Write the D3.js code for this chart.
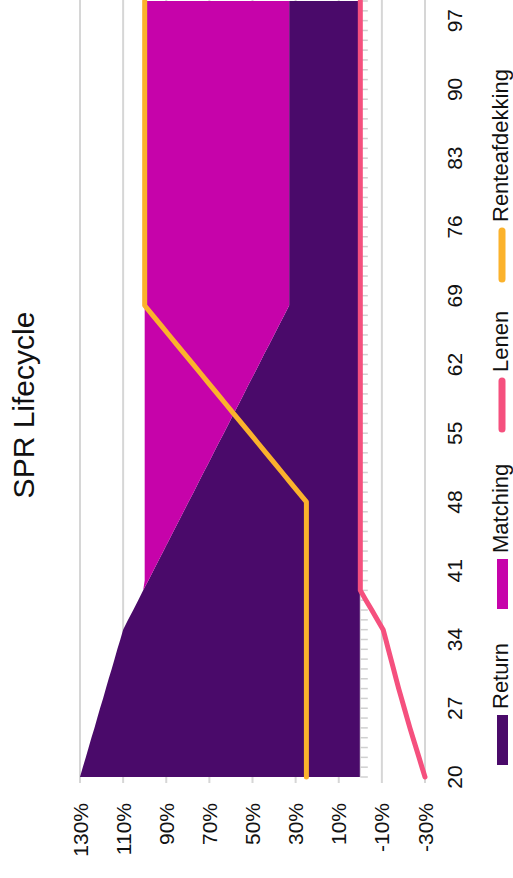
<!DOCTYPE html>
<html lang="en">
<head>
    <meta charset="UTF-8">
    <title>SPR Lifecycle</title>
    <script src="https://cdn.jsdelivr.net/npm/d3@7/dist/d3.min.js"></script>
    <style>
        body { margin: 0; background: #fff; }
        svg { display: block; font-family: "Liberation Sans", Arial, sans-serif; }
    </style>
</head>
<body>
<script>
    // leeftijden (categorieen)
    var ages = [
        20, 21, 22, 23, 24, 25, 26, 27, 28, 29,
        30, 31, 32, 33, 34, 35, 36, 37, 38, 39,
        40, 41, 42, 43, 44, 45, 46, 47, 48, 49,
        50, 51, 52, 53, 54, 55, 56, 57, 58, 59,
        60, 61, 62, 63, 64, 65, 66, 67, 68, 69,
        70, 71, 72, 73, 74, 75, 76, 77, 78, 79,
        80, 81, 82, 83, 84, 85, 86, 87, 88, 89,
        90, 91, 92, 93, 94, 95, 96, 97, 98, 99
    ];

    var returnPct = [
        130, 128.7, 127.3, 126, 124.7, 123.3, 122, 120.7, 119.3, 118,
        116.7, 115.3, 114, 112.7, 111.3, 110, 107.7, 105.3, 103, 100.7,
        98.3, 96, 93.7, 91.3, 89, 86.7, 84.3, 82, 79.7, 77.3,
        75, 72.7, 70.3, 68, 65.7, 63.3, 61, 58.7, 56.3, 54,
        51.7, 49.3, 47, 44.7, 42.3, 40, 37.7, 35.3, 33, 33,
        33, 33, 33, 33, 33, 33, 33, 33, 33, 33,
        33, 33, 33, 33, 33, 33, 33, 33, 33, 33,
        33, 33, 33, 33, 33, 33, 33, 33, 33, 33
    ];

    var matchingPct = [
        0, 0, 0, 0, 0, 0, 0, 0, 0, 0,
        0, 0, 0, 0, 0, 0, 0, 0, 0, 0,
        1.7, 4, 6.3, 8.7, 11, 13.3, 15.7, 18, 20.3, 22.7,
        25, 27.3, 29.7, 32, 34.3, 36.7, 39, 41.3, 43.7, 46,
        48.3, 50.7, 53, 55.3, 57.7, 60, 62.3, 64.7, 67, 67,
        67, 67, 67, 67, 67, 67, 67, 67, 67, 67,
        67, 67, 67, 67, 67, 67, 67, 67, 67, 67,
        67, 67, 67, 67, 67, 67, 67, 67, 67, 67
    ];

    var lenenPct = [
        -30, -28.6, -27.2, -25.8, -24.4, -23, -21.7, -20.4, -19.1, -17.8,
        -16.6, -15.4, -14.2, -13, -11.8, -10.6, -7.9, -5.3, -2.6, 0,
        0, 0, 0, 0, 0, 0, 0, 0, 0, 0,
        0, 0, 0, 0, 0, 0, 0, 0, 0, 0,
        0, 0, 0, 0, 0, 0, 0, 0, 0, 0,
        0, 0, 0, 0, 0, 0, 0, 0, 0, 0,
        0, 0, 0, 0, 0, 0, 0, 0, 0, 0,
        0, 0, 0, 0, 0, 0, 0, 0, 0, 0
    ];

    var renteafdekkingPct = [
        25, 25, 25, 25, 25, 25, 25, 25, 25, 25,
        25, 25, 25, 25, 25, 25, 25, 25, 25, 25,
        25, 25, 25, 25, 25, 25, 25, 25, 25, 28.75,
        32.5, 36.25, 40, 43.75, 47.5, 51.25, 55, 58.75, 62.5, 66.25,
        70, 73.75, 77.5, 81.25, 85, 88.75, 92.5, 96.25, 100, 100,
        100, 100, 100, 100, 100, 100, 100, 100, 100, 100,
        100, 100, 100, 100, 100, 100, 100, 100, 100, 100,
        100, 100, 100, 100, 100, 100, 100, 100, 100, 100
    ];

    var ageTicks = [20, 27, 34, 41, 48, 55, 62, 69, 76, 83, 90, 97];
    var pctTicks = [130, 110, 90, 70, 50, 30, 10, -10, -30];

    var areaKeys = ["Return", "Matching"];
    var areaColors = {Return: "#4a0a6a", Matching: "#c603aa"};
    var lenenColor = "#f5507e";
    var renteColor = "#fbb22c";
    var textColor = "#111";

    // tabel voor d3.stack
    var table = ages.map(function (a, i) {
        return {age: a, Return: returnPct[i], Matching: matchingPct[i]};
    });

    // de grafiek is 90 graden gedraaid: eerst tekenen in 878x513, dan roteren
    var W = 878, H = 513;
    var svg = d3.select("body").append("svg")
        .attr("width", 513).attr("height", 878);
    var g = svg.append("g")
        .attr("transform", "translate(0," + W + ") rotate(-90)");

    var x = d3.scaleLinear().domain([20, 99]).range([101, 877]);
    var y = d3.scaleLinear().domain([-30, 130]).range([425, 80]);

    // rasterlijnen
    g.append("g").selectAll("line").data(pctTicks).enter().append("line")
        .attr("x1", 95).attr("x2", W)
        .attr("y1", function (d) { return y(d); })
        .attr("y2", function (d) { return y(d); })
        .attr("stroke", "#d6d6d6").attr("stroke-width", 2);

    // gestapelde vlakken
    var stack = d3.stack().keys(areaKeys)(table);
    var area = d3.area()
        .x(function (d) { return x(d.data.age); })
        .y0(function (d) { return y(d[0]); })
        .y1(function (d) { return y(d[1]); });

    g.append("g").selectAll("path").data(stack).enter().append("path")
        .attr("d", area)
        .attr("fill", function (d) { return areaColors[d.key]; });

    // as op 0% met tickjes per jaar
    g.append("line")
        .attr("x1", x(20)).attr("x2", x(99))
        .attr("y1", y(0)).attr("y2", y(0))
        .attr("stroke", "#e0e0e0").attr("stroke-width", 1);
    g.append("g").selectAll("line").data(ages).enter().append("line")
        .attr("x1", function (d) { return x(d); })
        .attr("x2", function (d) { return x(d); })
        .attr("y1", y(0)).attr("y2", y(0) + 7.5)
        .attr("stroke", "#d0d0d0").attr("stroke-width", 1.5);

    var line = d3.line()
        .x(function (d, i) { return x(ages[i]); })
        .y(function (d) { return y(d); });

    g.append("path").attr("d", line(lenenPct))
        .attr("fill", "none").attr("stroke", lenenColor)
        .attr("stroke-width", 5).attr("stroke-linejoin", "round").attr("stroke-linecap", "round");
    g.append("path").attr("d", line(renteafdekkingPct))
        .attr("fill", "none").attr("stroke", renteColor)
        .attr("stroke-width", 5).attr("stroke-linejoin", "round").attr("stroke-linecap", "round");

    // aslabels
    g.append("g").selectAll("text").data(pctTicks).enter().append("text")
        .attr("x", 75).attr("y", function (d) { return y(d); })
        .attr("dy", "0.36em")
        .attr("text-anchor", "end")
        .attr("font-size", 21).attr("fill", textColor)
        .text(function (d) { return d + "%"; });

    g.append("g").selectAll("text").data(ageTicks).enter().append("text")
        .attr("x", function (d) { return x(d); }).attr("y", 462)
        .attr("text-anchor", "middle")
        .attr("font-size", 21).attr("fill", textColor)
        .text(function (d) { return d; });

    // titel
    g.append("text")
        .attr("x", 473).attr("y", 34)
        .attr("text-anchor", "middle")
        .attr("font-size", 30).attr("fill", textColor)
        .text("SPR Lifecycle");

    // legenda
    var legend = [
        {name: "Return", type: "area", color: areaColors.Return, u: 113},
        {name: "Matching", type: "area", color: areaColors.Matching, u: 269},
        {name: "Lenen", type: "line", color: lenenColor, u: 446},
        {name: "Renteafdekking", type: "line", color: renteColor, u: 596}
    ];
    var lg = g.append("g").selectAll("g").data(legend).enter().append("g");
    lg.filter(function (d) { return d.type === "area"; }).append("rect")
        .attr("x", function (d) { return d.u; }).attr("y", 497)
        .attr("width", 50).attr("height", 11)
        .attr("fill", function (d) { return d.color; });
    lg.filter(function (d) { return d.type === "line"; }).append("line")
        .attr("x1", function (d) { return d.u + 3; }).attr("x2", function (d) { return d.u + 51; })
        .attr("y1", 502).attr("y2", 502)
        .attr("stroke", function (d) { return d.color; })
        .attr("stroke-width", 7).attr("stroke-linecap", "round");
    lg.append("text")
        .attr("x", function (d) { return d.u + (d.type === "area" ? 56 : 60); })
        .attr("y", 508)
        .attr("font-size", 22).attr("fill", textColor)
        .text(function (d) { return d.name; });
</script>
</body>
</html>
